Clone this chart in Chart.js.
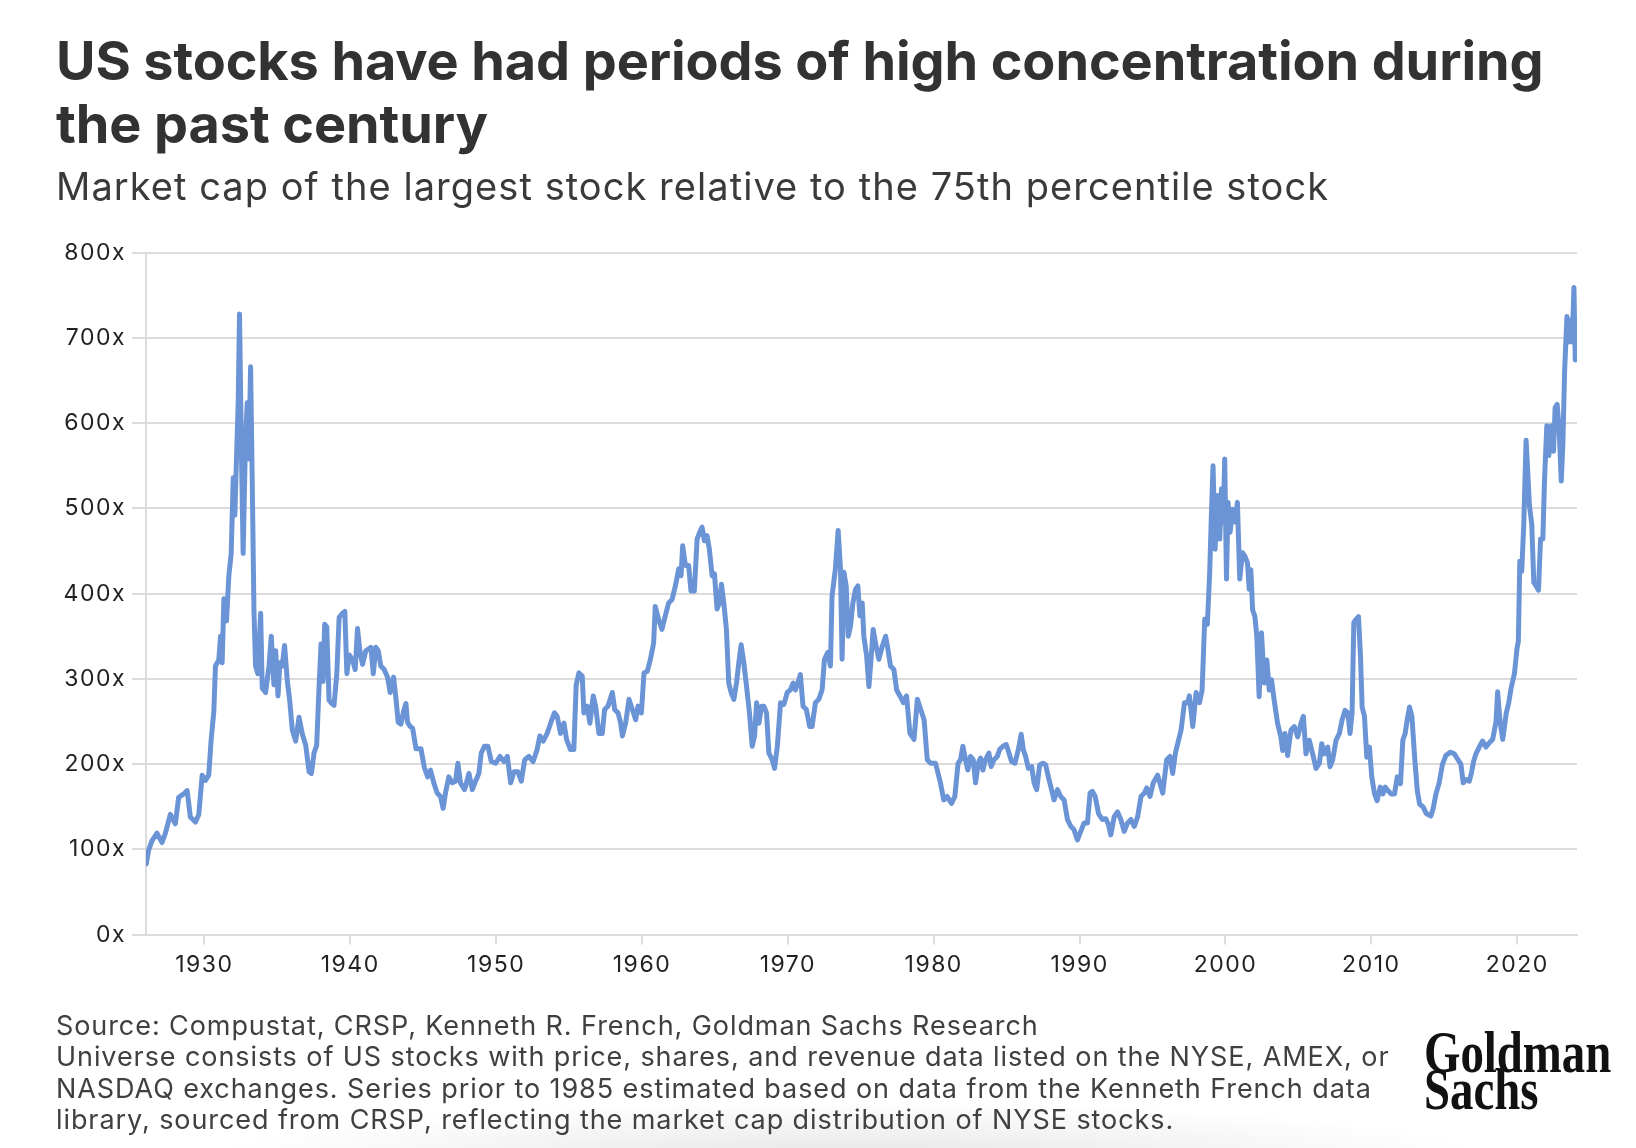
<!DOCTYPE html>
<html>
<head>
<meta charset="utf-8">
<script src="https://cdn.jsdelivr.net/npm/chart.js@4.4.1/dist/chart.umd.min.js"></script>
<style>
  html, body { margin: 0; padding: 0; background: #fff; }
  body { width: 1636px; height: 1148px; position: relative; overflow: hidden; font-family: Inter, "DejaVu Sans", sans-serif; color: #333; }
  #chart { position: absolute; left: 0; top: 0; }
  .txt { position: absolute; margin: 0; white-space: nowrap; }
  #title { left: 56px; top: 29px; font-size: 54px; line-height: 63px; font-weight: 700; color: #323232; letter-spacing: -0.1px; }
  #subtitle { left: 56px; top: 164px; font-size: 38px; line-height: 44px; font-weight: 400; color: #3a3a3a; letter-spacing: 1.05px; }
  #notes { left: 56px; top: 1010px; font-size: 27px; line-height: 31.3px; font-weight: 400; color: #404040; letter-spacing: 0.92px; }
  #logo { left: 1424px; top: 1034px; font-family: "Liberation Serif", serif; font-weight: 700; font-size: 60px; line-height: 37px; color: #111; transform: scaleX(0.78); transform-origin: left top; }
  #shade { position: absolute; left: 200px; top: 1100px; width: 1300px; height: 60px; background: radial-gradient(ellipse at 50% 100%, rgba(0,0,0,0.10), rgba(0,0,0,0) 70%); }
</style>
</head>
<body>
<div id="shade"></div>
<canvas id="chart" width="1636" height="1148"></canvas>
<div class="txt" id="title">US stocks have had periods of high concentration during<br>the past century</div>
<div class="txt" id="subtitle">Market cap of the largest stock relative to the 75th percentile stock</div>
<div class="txt" id="notes">Source: Compustat, CRSP, Kenneth R. French, Goldman Sachs Research<br>Universe consists of US stocks with price, shares, and revenue data listed on the NYSE, AMEX, or<br>NASDAQ exchanges. Series prior to 1985 estimated based on data from the Kenneth French data<br>library, sourced from CRSP, reflecting the market cap distribution of NYSE stocks.</div>
<div class="txt" id="logo">Goldman<br>Sachs</div>
<script>
// Year (decimal) of each observation
const years = [
  1926.02,1926.18,1926.41,1926.75,1927.10,1927.33,1927.67,1928.01,1928.24,1928.59,
  1928.82,1929.04,1929.39,1929.62,1929.85,1930.08,1930.30,1930.46,1930.65,1930.76,
  1930.99,1931.11,1931.22,1931.34,1931.52,1931.68,1931.84,1931.98,1932.09,1932.21,
  1932.32,1932.41,1932.55,1932.66,1932.82,1932.94,1933.05,1933.17,1933.28,1933.40,
  1933.51,1933.67,1933.86,1933.97,1934.20,1934.43,1934.59,1934.77,1934.89,1935.05,
  1935.18,1935.34,1935.50,1935.69,1935.85,1936.03,1936.26,1936.49,1936.72,1936.95,
  1937.18,1937.34,1937.52,1937.70,1937.86,1938.00,1938.14,1938.25,1938.39,1938.55,
  1938.73,1938.89,1939.08,1939.24,1939.47,1939.63,1939.77,1939.93,1940.16,1940.34,
  1940.50,1940.66,1940.84,1941.07,1941.42,1941.58,1941.76,1941.92,1942.10,1942.33,
  1942.56,1942.74,1942.97,1943.13,1943.29,1943.48,1943.66,1943.82,1943.93,1944.12,
  1944.28,1944.51,1944.85,1945.08,1945.31,1945.50,1945.73,1945.96,1946.19,1946.37,
  1946.53,1946.76,1946.99,1947.22,1947.38,1947.56,1947.84,1948.14,1948.37,1948.59,
  1948.82,1948.98,1949.21,1949.44,1949.67,1949.97,1950.27,1950.54,1950.77,1951.00,
  1951.23,1951.50,1951.73,1951.96,1952.24,1952.54,1952.81,1953.00,1953.23,1953.50,
  1953.78,1954.00,1954.19,1954.42,1954.65,1954.83,1955.10,1955.33,1955.49,1955.68,
  1955.91,1956.02,1956.25,1956.43,1956.66,1956.82,1957.05,1957.28,1957.44,1957.67,
  1957.97,1958.13,1958.36,1958.54,1958.66,1958.88,1959.11,1959.34,1959.57,1959.73,
  1959.96,1960.14,1960.37,1960.58,1960.80,1960.91,1961.14,1961.37,1961.60,1961.83,
  1962.06,1962.29,1962.52,1962.68,1962.79,1962.98,1963.20,1963.36,1963.59,1963.78,
  1963.96,1964.12,1964.28,1964.46,1964.62,1964.81,1964.97,1965.15,1965.31,1965.45,
  1965.61,1965.79,1965.95,1966.11,1966.30,1966.48,1966.64,1966.80,1966.98,1967.17,
  1967.37,1967.56,1967.72,1967.86,1968.02,1968.20,1968.36,1968.54,1968.70,1968.93,
  1969.09,1969.28,1969.50,1969.73,1969.96,1970.17,1970.36,1970.52,1970.68,1970.86,
  1971.04,1971.27,1971.50,1971.66,1971.89,1972.12,1972.35,1972.51,1972.74,1972.92,
  1973.03,1973.26,1973.45,1973.61,1973.72,1973.84,1974.00,1974.14,1974.30,1974.46,
  1974.64,1974.80,1974.94,1975.10,1975.21,1975.40,1975.56,1975.72,1975.85,1976.01,
  1976.24,1976.47,1976.70,1976.86,1977.04,1977.27,1977.46,1977.69,1977.92,1978.14,
  1978.37,1978.65,1978.88,1979.11,1979.34,1979.56,1979.79,1980.12,1980.30,1980.46,
  1980.69,1980.92,1981.22,1981.45,1981.67,1981.84,1982.00,1982.18,1982.34,1982.52,
  1982.71,1982.87,1983.05,1983.21,1983.37,1983.55,1983.78,1983.94,1984.13,1984.36,
  1984.52,1984.75,1984.97,1985.16,1985.34,1985.57,1985.80,1986.00,1986.14,1986.30,
  1986.49,1986.72,1986.88,1987.06,1987.26,1987.49,1987.68,1987.86,1988.02,1988.25,
  1988.48,1988.71,1988.94,1989.17,1989.40,1989.62,1989.85,1990.08,1990.31,1990.54,
  1990.72,1990.88,1991.07,1991.30,1991.57,1991.80,1991.98,1992.14,1992.37,1992.60,
  1992.83,1993.06,1993.29,1993.52,1993.75,1993.98,1994.21,1994.44,1994.60,1994.83,
  1995.05,1995.35,1995.70,1995.97,1996.20,1996.38,1996.57,1996.80,1996.96,1997.19,
  1997.41,1997.53,1997.76,1997.99,1998.22,1998.40,1998.58,1998.76,1998.92,1999.04,
  1999.15,1999.29,1999.45,1999.61,1999.73,1999.84,1999.95,2000.07,2000.18,2000.32,
  2000.48,2000.64,2000.82,2000.98,2001.17,2001.33,2001.51,2001.63,2001.74,2001.86,
  2002.02,2002.15,2002.31,2002.47,2002.66,2002.84,2003.00,2003.16,2003.34,2003.57,
  2003.80,2003.92,2004.08,2004.26,2004.49,2004.72,2004.95,2005.18,2005.34,2005.52,
  2005.75,2005.98,2006.21,2006.44,2006.60,2006.78,2007.01,2007.17,2007.35,2007.58,
  2007.81,2008.00,2008.20,2008.39,2008.54,2008.68,2008.80,2008.96,2009.12,2009.26,
  2009.37,2009.53,2009.69,2009.87,2010.03,2010.22,2010.40,2010.61,2010.79,2010.95,
  2011.13,2011.36,2011.59,2011.78,2012.00,2012.16,2012.32,2012.46,2012.62,2012.78,
  2012.97,2013.15,2013.31,2013.54,2013.77,2014.08,2014.24,2014.43,2014.65,2014.88,
  2015.11,2015.41,2015.69,2015.91,2016.14,2016.30,2016.49,2016.72,2016.88,2017.01,
  2017.17,2017.40,2017.63,2017.86,2018.09,2018.32,2018.55,2018.66,2018.82,2019.01,
  2019.24,2019.42,2019.58,2019.81,2019.99,2020.08,2020.18,2020.31,2020.45,2020.61,
  2020.73,2020.84,2021.00,2021.14,2021.30,2021.46,2021.60,2021.76,2021.87,2022.03,
  2022.17,2022.33,2022.49,2022.60,2022.74,2022.88,2023.02,2023.13,2023.25,2023.41,
  2023.52,2023.66,2023.77,2023.89,2023.98
];

// Market cap of largest stock / 75th percentile stock (x)
const ratio = [
  83,99,110,119,108,119,141,130,161,165,
  169,138,132,141,187,181,187,227,262,315,
  322,350,319,394,368,421,447,536,492,562,
  624,728,558,447,580,624,558,666,536,381,
  315,306,377,289,284,315,350,293,333,280,
  319,315,339,297,275,240,227,255,235,222,
  191,189,213,222,289,341,297,364,361,275,
  271,269,306,372,377,379,306,328,322,311,
  359,333,317,333,337,306,337,333,315,311,
  302,284,302,278,249,247,262,271,249,244,
  242,218,218,196,185,193,178,166,162,148,
  166,185,178,180,201,178,170,189,170,180,
  189,213,221,221,203,201,209,203,209,178,
  191,191,180,205,209,203,217,233,227,236,
  250,260,256,236,248,229,217,217,293,307,
  303,260,268,248,280,268,236,236,264,268,
  284,264,260,248,233,248,276,264,252,268,
  260,307,309,323,342,385,370,358,374,389,
  393,409,429,421,456,433,433,403,403,464,
  472,478,462,468,452,421,423,382,389,411,
  389,358,295,284,276,295,319,340,319,291,
  260,221,233,272,248,268,268,260,213,205,
  195,221,272,270,284,287,295,287,295,305,
  268,264,244,244,272,276,287,323,331,315,
  397,429,474,429,323,425,409,350,362,389,
  405,409,374,389,350,327,291,327,358,342,
  323,338,350,335,315,311,287,280,272,280,
  236,229,276,264,252,205,201,201,189,178,
  158,162,154,162,201,205,221,205,193,209,
  205,178,201,207,193,205,213,197,205,209,
  217,221,223,213,203,201,217,235,217,209,
  195,197,178,170,199,201,199,185,174,158,
  170,162,158,135,127,123,111,121,131,131,
  166,168,162,142,135,136,129,117,138,144,
  135,121,131,135,127,138,162,166,172,162,
  178,187,166,205,209,189,213,229,240,272,
  272,280,244,284,272,287,370,364,425,495,
  550,452,515,464,523,484,558,417,507,472,
  499,484,507,417,448,444,436,405,428,381,
  373,350,279,354,295,322,287,299,275,248,
  232,216,236,210,240,244,232,248,256,212,
  228,212,195,201,224,212,220,197,205,228,
  236,252,263,260,236,260,366,370,373,326,
  267,256,208,220,185,165,157,173,165,173,
  169,165,165,185,177,228,236,252,267,256,
  208,169,153,150,142,139,148,165,178,200,
  210,214,212,206,200,178,182,180,191,203,
  212,220,227,220,225,229,250,285,250,229,
  259,272,289,306,336,344,438,426,481,580,
  541,503,481,413,409,404,464,464,532,597,
  562,597,567,618,622,592,532,575,661,725,
  695,721,695,759,674
];

const xTickYears = [1930, 1940, 1950, 1960, 1970, 1980, 1990, 2000, 2010, 2020];
const yTickValues = [0, 100, 200, 300, 400, 500, 600, 700, 800];

if (years.length !== ratio.length) console.error('length mismatch', years.length, ratio.length);

const GRID = '#dcdcdc';
const points = years.map((x, i) => ({ x: x, y: ratio[i] }));

const labelSpacing = {
  id: 'labelSpacing',
  beforeDraw(chart) { chart.ctx.letterSpacing = '1.5px'; }
};

new Chart(document.getElementById('chart'), {
  type: 'line',
  data: {
    datasets: [{
      data: points,
      borderColor: '#6b94d6',
      borderWidth: 5,
      pointRadius: 0,
      tension: 0,
      borderJoinStyle: 'round',
      borderCapStyle: 'round',
      fill: false
    }]
  },
  plugins: [labelSpacing],
  options: {
    responsive: false,
    animation: false,
    events: [],
    layout: { padding: { left: 0, top: 252.6, right: 59, bottom: 163.4 } },
    plugins: { legend: { display: false }, tooltip: { enabled: false } },
    scales: {
      x: {
        type: 'linear',
        min: 1926,
        max: 2024.1,
        afterFit: (s) => { s.height = 50; },
        afterBuildTicks: (s) => { s.ticks = xTickYears.map(v => ({ value: v })); },
        ticks: {
          color: '#222',
          font: { family: 'Inter', size: 23 },
          padding: 7,
          maxRotation: 0,
          callback: (v) => String(v)
        },
        grid: { drawOnChartArea: false, drawTicks: true, tickLength: 10, color: GRID, lineWidth: 2 },
        border: { display: true, color: GRID, width: 2 }
      },
      y: {
        min: 0,
        max: 800,
        afterFit: (s) => { s.width = 146; },
        afterBuildTicks: (s) => { s.ticks = yTickValues.map(v => ({ value: v })); },
        ticks: {
          color: '#222',
          font: { family: 'Inter', size: 23 },
          padding: 6,
          callback: (v) => v + 'x'
        },
        grid: { color: GRID, lineWidth: 2, drawTicks: true, tickLength: 14 },
        border: { display: true, color: GRID, width: 2 }
      }
    }
  }
});
</script>
</body>
</html>
